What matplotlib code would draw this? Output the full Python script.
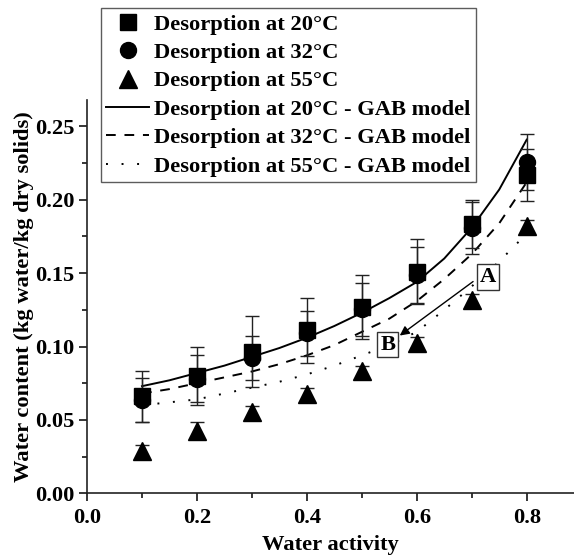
import matplotlib
matplotlib.use("Agg")
import matplotlib.pyplot as plt
from matplotlib.ticker import MultipleLocator
from matplotlib.lines import Line2D

plt.rcParams['font.family'] = ['Liberation Serif', 'DejaVu Serif']
plt.rcParams['font.weight'] = 'bold'

# ---------------- data ----------------
aw = [0.1, 0.2, 0.3, 0.4, 0.5, 0.6, 0.7, 0.8]
m20 = [0.066, 0.080, 0.0965, 0.111, 0.127, 0.151, 0.1836, 0.217]
e20 = [0.0175, 0.020, 0.024, 0.022, 0.022, 0.022, 0.0165, 0.0176]
m32 = [0.0635, 0.078, 0.092, 0.109, 0.1254, 0.1488, 0.1807, 0.226]
e32 = [0.015, 0.016, 0.015, 0.0155, 0.018, 0.019, 0.0175, 0.019]
m55 = [0.029, 0.0427, 0.0552, 0.0677, 0.083, 0.1027, 0.1318, 0.182]
e55 = [0.0042, 0.0057, 0.004, 0.004, 0.004, 0.004, 0.004, 0.004]

aw_model = [0.10, 0.15, 0.20, 0.25, 0.30, 0.35, 0.40, 0.45,
            0.50, 0.55, 0.60, 0.65, 0.70, 0.75, 0.80]
gab20 = [0.073, 0.077, 0.082, 0.087, 0.093, 0.099, 0.106, 0.114,
         0.123, 0.133, 0.144, 0.160, 0.181, 0.207, 0.241]
gab32 = [0.068, 0.071, 0.075, 0.079, 0.083, 0.088, 0.094, 0.101,
         0.110, 0.119, 0.131, 0.146, 0.163, 0.184, 0.212]
gab55 = [0.060, 0.062, 0.064, 0.068, 0.072, 0.076, 0.081, 0.087,
         0.094, 0.101, 0.110, 0.125, 0.141, 0.158, 0.177]

labels = ["Desorption at 20°C", "Desorption at 32°C", "Desorption at 55°C",
          "Desorption at 20°C - GAB model", "Desorption at 32°C - GAB model",
          "Desorption at 55°C - GAB model"]

FS = 16.2

fig = plt.figure(figsize=(5.74, 5.59), dpi=100)
ax = fig.add_axes([87/574, 1-493.3/559, 1-87/574, (493.3-100)/559])

ekw = dict(ecolor='#222222', elinewidth=1.0, capsize=5, capthick=1.0, linestyle='none')
ax.errorbar(aw, m20, yerr=e20, marker='s', ms=11.5, mfc='black', mec='black', zorder=3, **ekw)
ax.errorbar(aw, m32, yerr=e32, marker='o', ms=11.5, mfc='black', mec='black', zorder=3, **ekw)
ax.errorbar(aw, m55, yerr=e55, marker='^', ms=12.5, mfc='black', mec='black', zorder=3, **ekw)

ax.plot(aw_model, gab20, color='black', lw=1.4, linestyle='-', zorder=2)
ax.plot(aw_model, gab32, color='black', lw=1.4, linestyle=(0, (5, 4.5)), zorder=2)
ax.plot(aw_model, gab55, color='black', lw=1.4, linestyle=(0, (1, 7)), zorder=2)

ax.set_xlim(0, 0.886)
ax.set_ylim(0, 0.268)
ax.xaxis.set_major_locator(MultipleLocator(0.2))
ax.xaxis.set_minor_locator(MultipleLocator(0.1))
ax.yaxis.set_major_locator(MultipleLocator(0.05))
ax.yaxis.set_minor_locator(MultipleLocator(0.025))
ax.xaxis.set_major_formatter(plt.FuncFormatter(lambda v, p: f"{v:.1f}"))
ax.yaxis.set_major_formatter(plt.FuncFormatter(lambda v, p: f"{v:.2f}"))
for s in ['top', 'right']:
    ax.spines[s].set_visible(False)
for s in ['left', 'bottom']:
    ax.spines[s].set_linewidth(1.2)
    ax.spines[s].set_color('#222222')
ax.tick_params(which='major', direction='out', length=6, width=1.1, labelsize=FS, pad=3)
ax.tick_params(which='minor', direction='out', length=3.5, width=1.1)
ax.tick_params(axis='x', which='major', pad=4.5)
for lab in ax.get_xticklabels() + ax.get_yticklabels():
    lab.set_fontweight('bold')

ax.set_xlabel("Water activity", fontsize=FS, fontweight='bold', labelpad=5)
ax.set_ylabel("Water content (kg water/kg dry solids)", fontsize=FS, fontweight='bold', labelpad=1)

# annotations A / B with arrow
ax.annotate("", xy=(0.569, 0.1075), xytext=(0.7024, 0.1443),
            arrowprops=dict(arrowstyle='-|>', color='black', lw=1.0, mutation_scale=14,
                            shrinkA=0, shrinkB=0))
bbox = dict(boxstyle='square,pad=0.12', fc='white', ec='#333333', lw=1.0)
ax.text(0.729, 0.1475, "A", fontsize=FS, fontweight='bold', ha='center', va='center', bbox=bbox)
ax.text(0.547, 0.1013, "B", fontsize=FS, fontweight='bold', ha='center', va='center', bbox=bbox)

handles = [
    Line2D([], [], marker='s', ms=11, color='black', linestyle='none'),
    Line2D([], [], marker='o', ms=11.5, color='black', linestyle='none'),
    Line2D([], [], marker='^', ms=12.5, color='black', linestyle='none'),
    Line2D([], [], color='black', lw=1.4, linestyle='-'),
    Line2D([], [], color='black', lw=1.4, linestyle=(0, (5, 4.5))),
    Line2D([], [], color='black', lw=1.4, linestyle=(0, (1, 7))),
]
leg = fig.legend(handles, labels, loc='upper left', bbox_to_anchor=(100.7/574, 1-8.3/559),
                 bbox_transform=fig.transFigure, borderaxespad=0, frameon=True, fancybox=False,
                 prop=dict(family='Liberation Serif', weight='bold', size=FS),
                 handlelength=1.9, handletextpad=0.2, borderpad=0.25, labelspacing=0.34)
leg.get_frame().set_edgecolor('#333333')
leg.get_frame().set_linewidth(1.0)

fig.savefig("out.png", dpi=100)
